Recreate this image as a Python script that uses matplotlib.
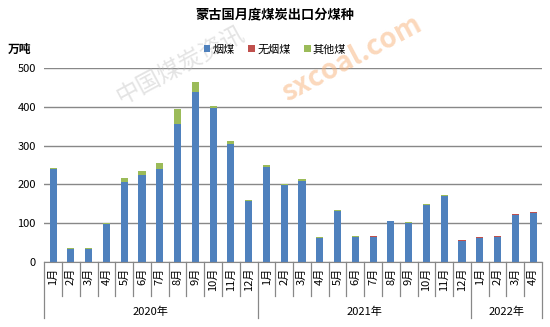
import matplotlib.pyplot as plt
import matplotlib.transforms as mtransforms
import numpy as np

plt.rcParams['font.family'] = ['Noto Sans CJK SC', 'DejaVu Sans']

# 数据 (万吨)
months = ['1月', '2月', '3月', '4月', '5月', '6月', '7月', '8月', '9月', '10月', '11月', '12月',
          '1月', '2月', '3月', '4月', '5月', '6月', '7月', '8月', '9月', '10月', '11月', '12月',
          '1月', '2月', '3月', '4月']
years = ['2020年', '2021年', '2022年']
year_counts = [12, 12, 4]
bituminous = [239, 33, 33, 98, 206, 224, 239, 356, 438, 397, 304, 157,
              245, 198, 208, 61, 131, 64, 64, 104, 100, 146, 170, 54,
              62, 63, 121, 126]
anthracite = [0, 0, 0, 0, 0, 0, 0, 0, 0, 0, 0, 0,
              0, 0, 0, 0, 0, 0, 3, 2, 0, 1, 0, 3,
              2, 3, 3, 3]
other = [3, 2, 2, 1, 10, 10, 15, 39, 26, 5, 8, 2,
         5, 3, 5, 2, 3, 3, 0, 0, 3, 2, 2, 0,
         0, 0, 0, 0]

c_blue = '#4F81BD'
c_red = '#C0504D'
c_green = '#9BBB59'

x = np.arange(len(months))
w = 0.4
b1 = np.array(bituminous)
b2 = b1 + np.array(anthracite)

fig = plt.figure(figsize=(5.5, 3.27), dpi=100)
ax = fig.add_axes([0.0805, 0.1997, 0.905, 0.5913])

# 水印
fig.text(0.64, 0.82, 'sxcoal.com', color='#F7B27A', alpha=0.5, fontsize=20,
         fontweight='bold', rotation=28, ha='center', va='center', zorder=0)
fig.text(0.33, 0.80, '中国煤炭资讯', color='#BBBBBB', alpha=0.4, fontsize=17,
         rotation=28, ha='center', va='center', zorder=0)

ax.set_axisbelow(True)
ax.yaxis.grid(True, color='#888888', linewidth=1)
ax.bar(x, bituminous, w, color=c_blue, label='烟煤', zorder=2)
ax.bar(x, anthracite, w, bottom=b1, color=c_red, label='无烟煤', zorder=2)
ax.bar(x, other, w, bottom=b2, color=c_green, label='其他煤', zorder=2)

ax.set_xlim(-0.5, len(months) - 0.5)
ax.set_ylim(0, 500)
ax.set_yticks(range(0, 501, 100))
ax.tick_params(axis='y', length=0, labelsize=8, pad=6)
ax.set_xticks(x)
ax.set_xticklabels(months, rotation=90, fontsize=8)
ax.tick_params(axis='x', length=0, pad=4)
for s in ['left', 'right', 'top']:
    ax.spines[s].set_visible(False)
ax.spines['bottom'].set_color('#888888')
ax.patch.set_alpha(0)

# 分组刻度线
trans = mtransforms.blended_transform_factory(ax.transData, ax.transAxes)
bounds = np.cumsum([0] + year_counts) - 0.5
for i in range(len(months) + 1):
    xb = i - 0.5
    y_end = -0.291 if xb in bounds else -0.177
    ax.plot([xb, xb], [0, y_end], color='#888888', lw=0.9, transform=trans, clip_on=False)
for k, yr in enumerate(years):
    xc = (bounds[k] + bounds[k + 1]) / 2
    ax.text(xc, -0.258, yr, transform=trans, ha='center', va='center', fontsize=8)

fig.text(0.5, 0.955, '蒙古国月度煤炭出口分煤种', ha='center', va='center',
         fontsize=9.5, fontweight='bold')
fig.text(0.015, 0.848, '万吨', ha='left', va='center', fontsize=8.5, fontweight='bold')
fig.legend(loc='center', bbox_to_anchor=(0.5, 0.848), ncol=3, frameon=False,
           fontsize=8, handlelength=0.6, handleheight=0.6, handletextpad=0.2,
           columnspacing=1.2)

fig.savefig('out.png', dpi=100)
